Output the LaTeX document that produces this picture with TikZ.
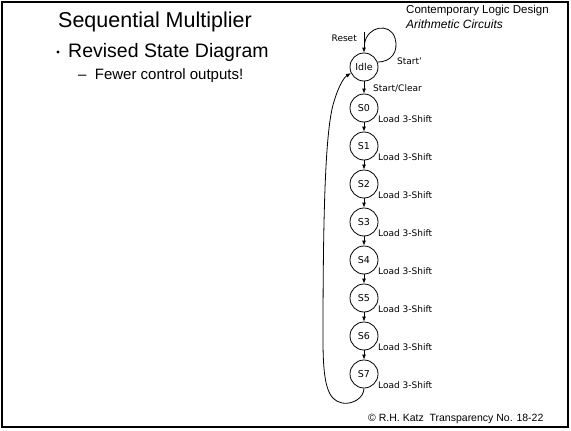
\documentclass[tikz,border=0pt]{standalone}
\usepackage{fontspec}
\setmainfont{Liberation Sans}
\newfontfamily\statefont{DejaVu Sans}
\usetikzlibrary{arrows.meta}
\tikzset{
  state/.style={draw, circle, minimum size=28pt, inner sep=0pt, font=\statefont\fontsize{9.5}{10}\selectfont, line width=0.8pt},
  tr/.style={-{Latex[length=5pt,width=4pt]}, line width=0.8pt},
  lbl/.style={anchor=west, inner sep=0pt, font=\statefont\fontsize{9}{10}\selectfont},
}
\begin{document}
\begin{tikzpicture}[x=1pt,y=-1pt]
\useasboundingbox (0,0) rectangle (571,431);
\draw[line width=2pt] (2,2) rectangle (568,427);
% titles
\node[anchor=west, inner sep=0pt, font=\fontsize{21.5}{24}\selectfont] (title) at (58,22) {Sequential Multiplier};
\fill (58,52) circle (1.6pt);
\node[anchor=west, inner sep=0pt, font=\fontsize{19.5}{22}\selectfont] (sub) at (68,52) {Revised State Diagram};
\node[anchor=west, inner sep=0pt, font=\fontsize{15}{17}\selectfont] (subsub) at (78,76) {–\ \ Fewer control outputs!};
\node[anchor=west, inner sep=0pt, font=\fontsize{11.5}{13}\selectfont] (cld) at (406,11) {Contemporary Logic Design};
\node[anchor=west, inner sep=0pt, font=\itshape\fontsize{12}{13}\selectfont] (ac) at (406,24) {Arithmetic Circuits};
\node[anchor=west, inner sep=0pt, font=\fontsize{10.5}{12}\selectfont] (copy) at (368,419) {© R.H. Katz\ \ Transparency No. 18-22};
% states
\node[state] (idle) at (364,67) {Idle};
\node[state] (s0) at (364,108) {S0};
\node[state] (s1) at (364,146) {S1};
\node[state] (s2) at (364,184) {S2};
\node[state] (s3) at (364,222) {S3};
\node[state] (s4) at (364,260) {S4};
\node[state] (s5) at (364,298) {S5};
\node[state] (s6) at (364,336) {S6};
\node[state] (s7) at (364,374) {S7};
% reset
\node[anchor=east, inner sep=0pt, font=\statefont\fontsize{9}{10}\selectfont] (reset) at (357,38) {Reset};
\coordinate (rtop) at (364,32);
\draw[tr] (rtop) -- (idle.north);
% self loop
\coordinate (ls) at (364.5,44);
\draw[line width=0.8pt] (ls) .. controls (367,26) and (390,22) .. (395,38) .. controls (399,52) and (391,62) .. (idle.20);
\node[lbl] (startp) at (397,61) {Start’};
% chain
\draw[tr] (idle) -- (s0);
\node[lbl] (sc) at (373,88) {Start/Clear};
\foreach \a/\b in {s0/s1,s1/s2,s2/s3,s3/s4,s4/s5,s5/s6,s6/s7}{\draw[tr] (\a) -- (\b);}
\foreach \s in {s0,s1,s2,s3,s4,s5,s6,s7}{\node[lbl] at ([xshift=14pt,yshift=-11pt]\s.center) {Load 3-Shift};}
% return arc
\draw[tr] (s7.south) .. controls (364,398) and (352,405) .. (342,403) .. controls (328,400) and (323,385) .. (323,340) .. controls (323,220) and (325,135) .. (333,105) .. controls (337,90) and (343,78) .. (idle.205);
\end{tikzpicture}
\end{document}
